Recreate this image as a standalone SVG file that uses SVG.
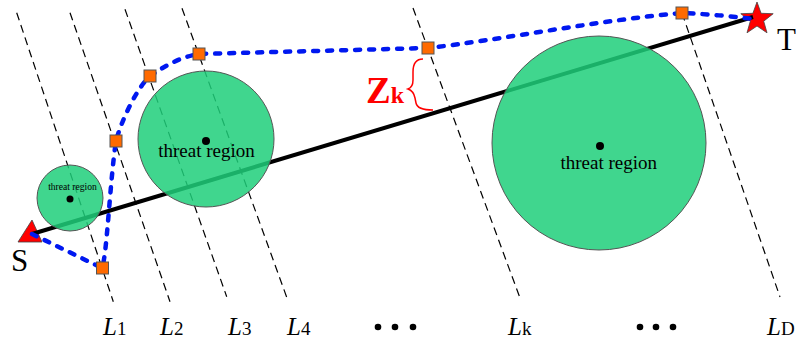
<svg xmlns="http://www.w3.org/2000/svg" width="796" height="344" viewBox="0 0 796 344">
  <style>
    .guide { stroke: #000; stroke-width: 1.2; stroke-dasharray: 8 5; fill: none; }
    .zone { fill: #1fcf7a; fill-opacity: 0.85; stroke: #555; stroke-width: 1; }
    .dot { fill: #000; }
    .wp { fill: #ff6a00; stroke: #555; stroke-width: 1; }
    text { font-family: "Liberation Serif", "Times New Roman", serif; fill: #000; }
    .sub { font-style: normal; font-size: 19px; }
    .ell { fill: #000; }
  </style>

  <g id="guides">
    <line class="guide" x1="16.7" y1="12.7" x2="113.3" y2="301.7"/>
    <line class="guide" x1="70" y1="12.7" x2="170" y2="301.7"/>
    <line class="guide" x1="125" y1="9.3" x2="226.7" y2="296.7"/>
    <line class="guide" x1="182" y1="8.3" x2="287" y2="298"/>
    <line class="guide" x1="413" y1="8" x2="520" y2="298"/>
    <line class="guide" x1="682" y1="13" x2="780" y2="297"/>
  </g>

  <g id="S">
    <polygon points="32,220 18,242 42,242" fill="#ff0000" stroke="#444" stroke-width="0.8"/>
    <text x="19.5" y="271" font-family="Liberation Serif, serif" font-size="31" text-anchor="middle">S</text>
  </g>

  <g id="T">
    <polygon points="757,2 761.1,13.3 773.2,13.7 763.7,21.2 767,32.8 757,26 747,32.8 750.3,21.2 740.8,13.7 752.9,13.3" fill="#ff0000" stroke="#444" stroke-width="0.8"/>
    <text x="777" y="50" font-family="Liberation Serif, serif" font-size="31">T</text>
  </g>

  <g id="connectors">
    <line x1="32" y1="234" x2="753" y2="17" stroke="#000" stroke-width="4"/>
  </g>

  <g id="threat1">
    <circle class="zone" cx="70" cy="198" r="33"/>
    <circle class="dot" cx="70" cy="199" r="3.5"/>
    <text x="72.5" y="190" font-size="9.6" text-anchor="middle">threat region</text>
  </g>
  <g id="threat2">
    <circle class="zone" cx="206" cy="139" r="68"/>
    <circle class="dot" cx="206" cy="141" r="4"/>
    <text x="206.5" y="157" font-size="19" text-anchor="middle">threat region</text>
  </g>
  <g id="threat3">
    <circle class="zone" cx="599" cy="143" r="107"/>
    <circle class="dot" cx="600" cy="146" r="4"/>
    <text x="608.7" y="169" font-size="19" text-anchor="middle">threat region</text>
  </g>

  <g id="path">
    <path d="M32,234 L102,268 C107,255 110,180 116,141 C120,125 135,90 150,76 C165,66 180,57 199,54 L428,48 C500,40 600,20 682,13 C705,14 730,16 753,19" fill="none" stroke="#0018f0" stroke-width="4.5" stroke-dasharray="5 9" stroke-linecap="round"/>
  </g>

  <g id="waypoints">
    <rect class="wp" x="96.5" y="262" width="12" height="12"/>
    <rect class="wp" x="110" y="135" width="12" height="12"/>
    <rect class="wp" x="144" y="70" width="12" height="12"/>
    <rect class="wp" x="193" y="48" width="12" height="12"/>
    <rect class="wp" x="422" y="42" width="12" height="12"/>
    <rect class="wp" x="676" y="7" width="12" height="12"/>
  </g>

  <g id="Zk">
    <path d="M423,59 C415,59 413,65 413,72 L413,80 C413,85 411,88 408,89 C411,90 414,93 415,98 L416,103 C417,108 423,110 433,110" fill="none" stroke="#ff0000" stroke-width="1.5"/>
    <text x="366" y="103" font-size="37" font-weight="bold" style="fill:#ff0000">Z<tspan font-size="24">k</tspan></text>
  </g>

  <g id="labels">
    <text x="103" y="335" font-size="25" font-style="italic">L<tspan class="sub">1</tspan></text>
    <text x="160" y="335" font-size="25" font-style="italic">L<tspan class="sub">2</tspan></text>
    <text x="228" y="335" font-size="25" font-style="italic">L<tspan class="sub">3</tspan></text>
    <text x="287" y="335" font-size="25" font-style="italic">L<tspan class="sub">4</tspan></text>
    <text x="508" y="335" font-size="25" font-style="italic">L<tspan class="sub">k</tspan></text>
    <text x="767" y="335" font-size="25" font-style="italic">L<tspan class="sub">D</tspan></text>
  </g>

  <g id="ellipses">
    <circle class="ell" cx="378" cy="327" r="3.3"/>
    <circle class="ell" cx="395" cy="327" r="3.3"/>
    <circle class="ell" cx="413" cy="327" r="3.3"/>
    <circle class="ell" cx="640" cy="327" r="3.3"/>
    <circle class="ell" cx="656" cy="327" r="3.3"/>
    <circle class="ell" cx="673" cy="327" r="3.3"/>
  </g>
</svg>
